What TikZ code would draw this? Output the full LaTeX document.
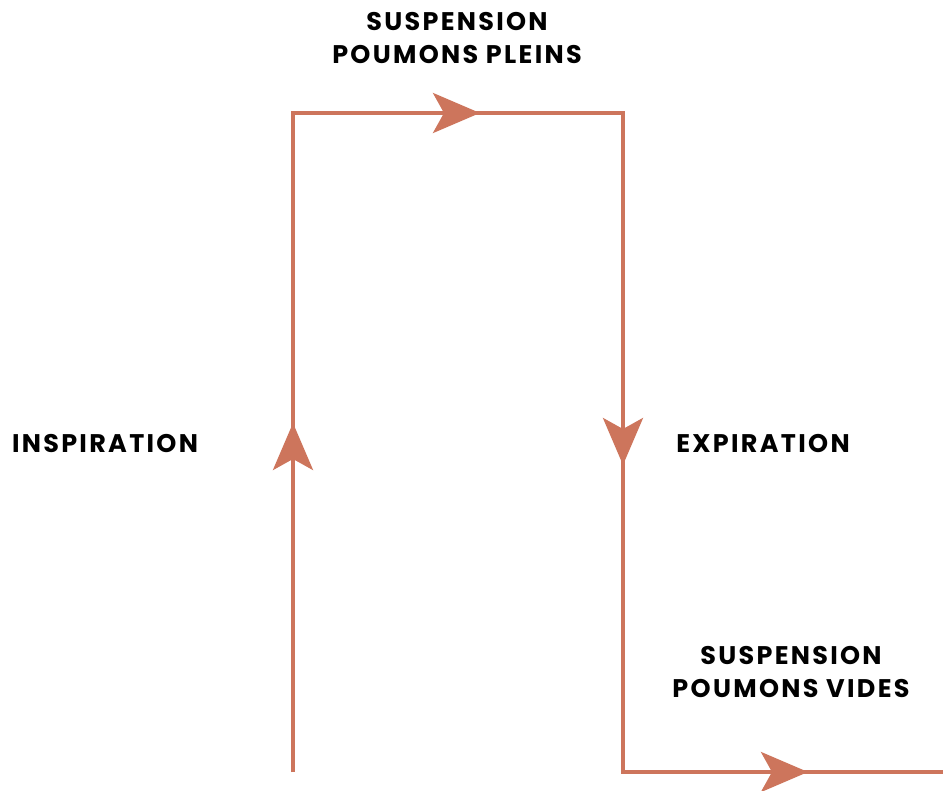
\documentclass[tikz,border=0pt]{standalone}
\usepackage{fontspec}
\setmainfont{Poppins}[LetterSpace=9]
\usetikzlibrary{arrows.meta}
\definecolor{souffle}{RGB}{205,117,92}

\begin{document}
\begin{tikzpicture}[x=1pt,y=-1pt,
    >={Stealth[length=47pt,width=40pt,inset=11pt]},
    flow/.style={souffle,line width=4pt},
    etiq/.style={font=\fontsize{25.5}{33}\selectfont\bfseries,align=center,text=black,inner sep=0pt}]
    \useasboundingbox (0,0) rectangle (943,791);
    % trajet du souffle
    \coordinate (depart) at (293,772);
    \coordinate (coinA) at (293,113);
    \coordinate (coinB) at (623,113);
    \coordinate (coinC) at (623,772);
    \coordinate (fin) at (943,772);
    \draw[flow,line join=miter] (depart) -- (coinA) -- (coinB) -- (coinC) -- (fin);
    % pointes de fleches
    \coordinate (pInsp) at (293,423);
    \coordinate (pPlein) at (480,113);
    \coordinate (pExp) at (623,465);
    \coordinate (pVide) at (808,772);
    \draw[flow,->] (depart) -- (pInsp);
    \draw[flow,->] (coinA) -- (pPlein);
    \draw[flow,->] (coinB) -- (pExp);
    \draw[flow,->] (coinC) -- (pVide);
    % textes
    \node[etiq] (plein) at (457,38) {SUSPENSION\\POUMONS PLEINS};
    \node[etiq] (insp) at (105,444) {INSPIRATION};
    \node[etiq] (exp) at (763,444) {EXPIRATION};
    \node[etiq] (vide) at (791,672) {SUSPENSION\\POUMONS VIDES};
\end{tikzpicture}
\end{document}
